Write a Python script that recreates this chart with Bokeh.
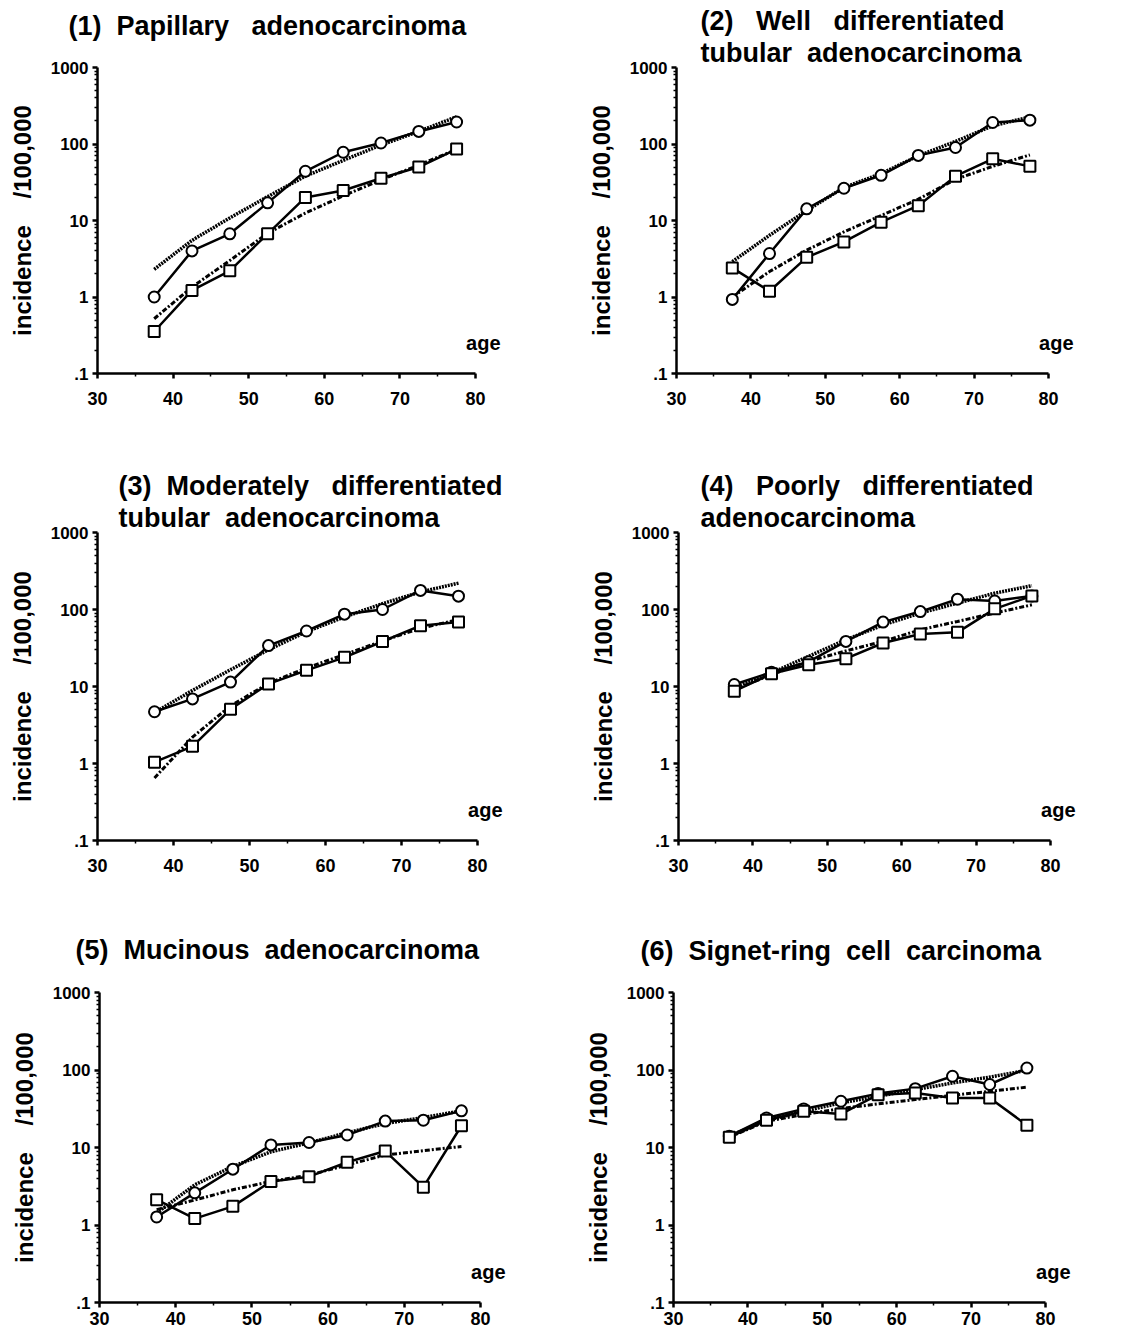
from bokeh.plotting import figure
from bokeh.models import Range1d, FixedTicker, CustomJSTickFormatter, Title, Label
from bokeh.layouts import column, row
from bokeh.embed import file_html
from bokeh.resources import INLINE

ages = [37.5, 42.5, 47.5, 52.5, 57.5, 62.5, 67.5, 72.5, 77.5]
x_ticks = [30, 40, 50, 60, 70, 80]
x_minor = [35, 45, 55, 65, 75]
y_ticks = [0.1, 1, 10, 100, 1000]
y_minor = [m * d for d in (0.1, 1, 10, 100) for m in (2, 3, 4, 5, 6, 7, 8, 9)]

NB = "\u00a0"
titles = [
    ["(1)" + NB * 2 + "Papillary" + NB * 3 + "adenocarcinoma"],
    ["(2)" + NB * 3 + "Well" + NB * 3 + "differentiated", "tubular" + NB * 2 + "adenocarcinoma"],
    ["(3)" + NB * 2 + "Moderately" + NB * 3 + "differentiated", "tubular" + NB * 2 + "adenocarcinoma"],
    ["(4)" + NB * 3 + "Poorly" + NB * 3 + "differentiated", "adenocarcinoma"],
    ["(5)" + NB * 2 + "Mucinous" + NB * 2 + "adenocarcinoma"],
    ["(6)" + NB * 2 + "Signet-ring" + NB * 2 + "cell" + NB * 2 + "carcinoma"],
]

p1_circle = [1.0, 4.0, 6.7, 17, 44, 78, 103, 146, 194]
p1_square = [0.354, 1.22, 2.2, 6.7, 20, 24.7, 35.6, 50, 86]
p1_circle_fit = [2.3, 5.5, 10.8, 20.5, 38, 61, 97, 146, 227]
p1_square_fit = [0.52, 1.35, 3.0, 6.8, 12.5, 21, 34, 53, 85]

p2_circle = [0.93, 3.7, 14.2, 26.4, 39, 71, 90, 191, 205]
p2_square = [2.4, 1.19, 3.3, 5.25, 9.5, 15.6, 38, 64, 51]
p2_circle_fit = [2.9, 6.4, 13.5, 27, 41, 70, 108, 173, 226]
p2_square_fit = [1.0, 2.15, 4.1, 7.1, 11.6, 19, 34.5, 51, 72]

p3_circle = [4.7, 6.9, 11.4, 34, 52.6, 87, 100, 177, 149]
p3_square = [1.04, 1.67, 5.06, 10.8, 16.2, 23.9, 38.4, 61.6, 69]
p3_circle_fit = [4.6, 8.9, 16.5, 30, 51.5, 80, 119, 169, 220]
p3_square_fit = [0.65, 2.2, 5.6, 11, 17.4, 26, 39, 57, 74]

p4_circle = [10.6, 15.3, 21, 38.5, 68.6, 94, 136, 129, 150]
p4_square = [8.7, 14.6, 19.2, 23, 36.7, 48, 50.5, 102, 150]
p4_circle_fit = [9.8, 15, 24.7, 40.5, 63, 90, 121, 163, 204]
p4_square_fit = [9.1, 14.3, 21.3, 29, 38.6, 54.6, 70, 90, 115]

p5_circle = [1.27, 2.6, 5.25, 10.8, 11.6, 14.5, 21.9, 22.5, 29.7]
p5_square = [2.12, 1.21, 1.74, 3.65, 4.2, 6.45, 9.0, 3.08, 19.1]
p5_circle_fit = [1.43, 3.3, 5.7, 8.8, 11.5, 15.5, 20.4, 24.4, 29.7]
p5_square_fit = [1.58, 2.1, 2.85, 3.65, 4.4, 5.96, 8.0, 9.1, 10.3]

p6_circle = [14, 24, 31.5, 39.5, 49.6, 57.5, 83, 65, 106]
p6_square = [13.6, 22.5, 29.4, 27, 48, 50.6, 43.6, 43.6, 19.4]
p6_circle_fit = [14, 22.3, 29.4, 37.6, 45.9, 55.8, 68, 81, 99]
p6_square_fit = [13.6, 21.8, 26.6, 31.8, 36.5, 41.5, 47.2, 53, 60]

FONT = "Liberation Sans"
EXT = 28  # px of empty frame to the right of age 80 (room for the "age" label)


def make_panel(title_lines, t_offset, t_pad, circ, sq, circ_fit, sq_fit,
               width, height, bl, bt, data_w, bb, xlab_standoff):
    frame_w = data_w + EXT
    x_end = 80 + EXT * 50.0 / data_w
    br = width - bl - frame_w
    p = figure(width=width, height=height,
               x_range=Range1d(30, x_end), y_range=Range1d(0.1, 1000),
               y_axis_type="log", output_backend="svg", toolbar_location=None,
               min_border_left=bl, min_border_top=bt, min_border_right=br,
               min_border_bottom=bb)
    p.outline_line_color = None
    p.xgrid.visible = False
    p.ygrid.visible = False
    p.background_fill_color = "white"
    p.border_fill_color = "white"

    for txt in reversed(title_lines):
        p.add_layout(Title(text=txt, align="left", offset=t_offset, standoff=0,
                           padding=dict(top=0, right=0, bottom=t_pad, left=0),
                           text_font=FONT, text_font_size="27px",
                           text_font_style="bold", text_color="black"), "above")

    for ax in (p.xaxis[0], p.yaxis[0]):
        ax.axis_line_width = 2.5
        ax.axis_line_color = "black"
        ax.major_tick_line_width = 2.5
        ax.major_tick_line_color = "black"
        ax.minor_tick_line_width = 1.5
        ax.minor_tick_line_color = "black"
        ax.major_tick_in = 0
        ax.major_tick_out = 5
        ax.minor_tick_in = 0
        ax.minor_tick_out = 3
        ax.major_label_text_font = FONT
        ax.major_label_text_font_style = "bold"
        ax.major_label_text_color = "black"

    p.xaxis.bounds = (30, 80)
    p.xaxis.ticker = FixedTicker(ticks=x_ticks, minor_ticks=x_minor)
    p.xaxis.major_label_text_font_size = "18px"
    p.xaxis.major_label_standoff = xlab_standoff

    p.yaxis.ticker = FixedTicker(ticks=y_ticks, minor_ticks=y_minor)
    p.yaxis.formatter = CustomJSTickFormatter(
        code="var s = String(tick); return tick < 1 ? s.replace(/^0/, '') : s;")
    p.yaxis.major_label_text_font_size = "17px"
    p.yaxis.major_label_standoff = 4
    p.yaxis.axis_label = "incidence" + NB * 4 + "/100,000"
    p.yaxis.axis_label_text_font = FONT
    p.yaxis.axis_label_text_font_size = "24px"
    p.yaxis.axis_label_text_font_style = "bold"
    p.yaxis.axis_label_text_color = "black"
    p.yaxis.axis_label_standoff = 12

    # fitted curves
    p.line(ages, circ_fit, line_color="black", line_width=3.5, line_dash="2 1")
    p.line(ages, sq_fit, line_color="black", line_width=3, line_dash="5 2 2 2")
    # observed
    p.line(ages, circ, line_color="black", line_width=2.5)
    p.line(ages, sq, line_color="black", line_width=2.5)
    p.scatter(ages, circ, marker="circle", size=11, fill_color="white",
              line_color="black", line_width=2)
    p.scatter(ages, sq, marker="square", size=11, fill_color="white",
              line_color="black", line_width=2)

    p.add_layout(Label(x=80, y=0.1, text="age", text_align="right",
                       text_baseline="bottom",
                       x_offset=25, y_offset=20, text_font=FONT,
                       text_font_size="20px", text_font_style="bold",
                       text_color="black"))
    return p


W1, W2 = 568, 540
H1, H2, H3 = 466, 466, 404

f1 = make_panel(titles[0], -29, 27, p1_circle, p1_square, p1_circle_fit, p1_square_fit,
                W1, H1, 97, 67, 378, H1 - 67 - 311, 13)
f2 = make_panel(titles[1], 24, 0, p2_circle, p2_square, p2_circle_fit, p2_square_fit,
                W2, H1, 108, 63, 372, H1 - 63 - 310, 13)
f3 = make_panel(titles[2], 21, 0, p3_circle, p3_square, p3_circle_fit, p3_square_fit,
                W1, H2, 97, 66, 380, H2 - 66 - 310, 13)
f4 = make_panel(titles[3], 22, 0, p4_circle, p4_square, p4_circle_fit, p4_square_fit,
                W2, H2, 110, 65, 372, H2 - 65 - 309, 13)
f5 = make_panel(titles[4], -24, 28, p5_circle, p5_square, p5_circle_fit, p5_square_fit,
                W1, H3, 99, 60, 381, H3 - 60 - 311, 4)
f6 = make_panel(titles[5], -33, 27, p6_circle, p6_square, p6_circle_fit, p6_square_fit,
                W2, H3, 105, 59, 372, H3 - 59 - 311, 4)

layout = column(row(f1, f2), row(f3, f4), row(f5, f6))
open("out.html", "w").write(file_html(layout, INLINE))
